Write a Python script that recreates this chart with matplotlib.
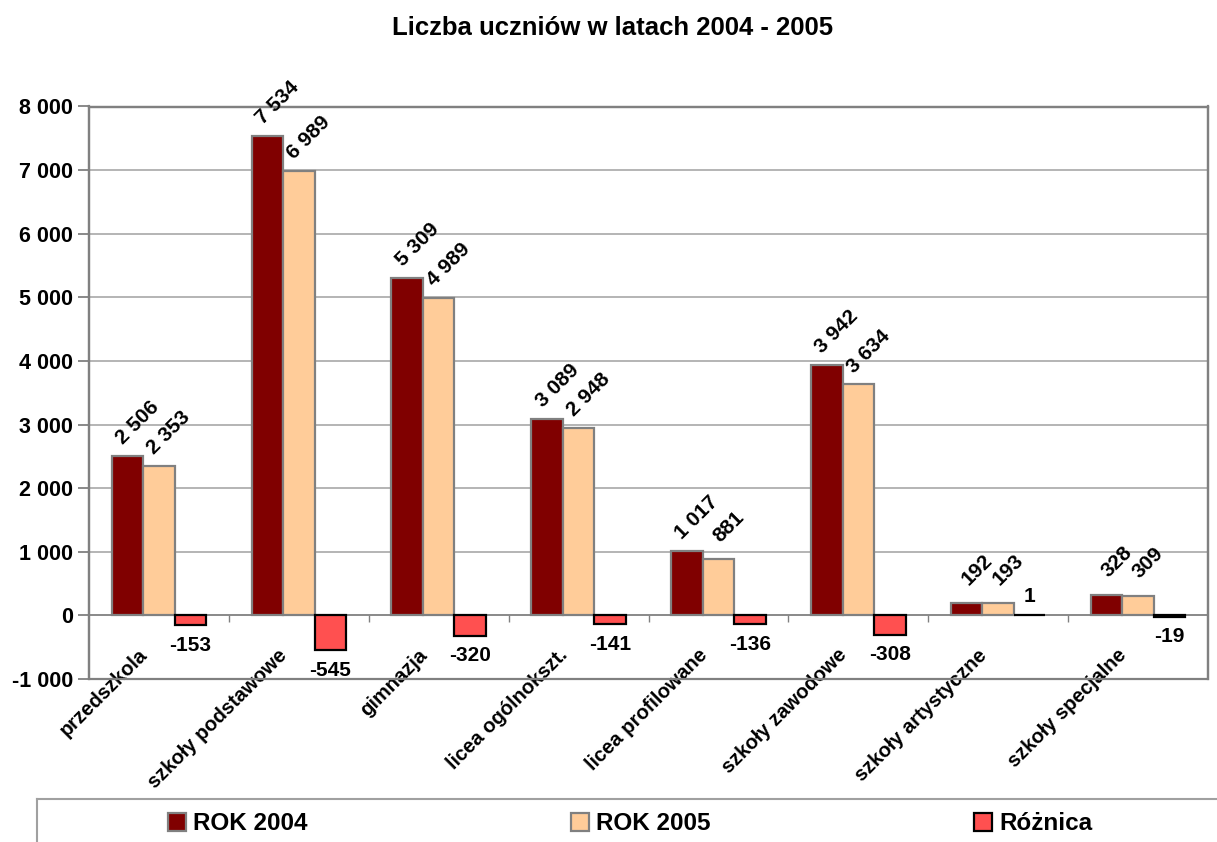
import matplotlib
matplotlib.use("Agg")
import matplotlib.pyplot as plt
import numpy as np
from matplotlib.patches import Patch, Rectangle
from matplotlib.lines import Line2D

plt.rcParams['font.family'] = ['Liberation Sans', 'DejaVu Sans']
plt.rcParams['font.weight'] = 'bold'

categories = ["przedszkola", "szkoły podstawowe", "gimnazja", "licea ogólnokszt.",
              "licea profilowane", "szkoły zawodowe", "szkoły artystyczne", "szkoły specjalne"]
rok2004 = [2506, 7534, 5309, 3089, 1017, 3942, 192, 328]
rok2005 = [2353, 6989, 4989, 2948, 881, 3634, 193, 309]
roznica = [-153, -545, -320, -141, -136, -308, 1, -19]
series_names = ["ROK 2004", "ROK 2005", "Różnica"]
yticks = [-1000, 0, 1000, 2000, 3000, 4000, 5000, 6000, 7000, 8000]
title = "Liczba uczniów w latach 2004 - 2005"

def fmt(v):
    return f"{v:,}".replace(",", " ")

W, H = 1217, 842
fig = plt.figure(figsize=(W / 100, H / 100), dpi=100)
ax = fig.add_axes([89 / W, 1 - 679 / H, (1208 - 89) / W, (679 - 106.5) / H])

x = np.arange(len(categories))
bw = 0.225
gray = '#808080'
c04, c05, cr = '#800000', '#FFCC99', '#FF5050'

b1 = ax.bar(x - bw, rok2004, bw, color=c04, edgecolor=gray, linewidth=1.6, zorder=3)
b2 = ax.bar(x, rok2005, bw, color=c05, edgecolor=gray, linewidth=1.6, zorder=3)
b3 = ax.bar(x + bw, roznica, bw, color=cr, edgecolor='black', linewidth=1.6, zorder=3)

ax.set_xlim(-0.5, len(categories) - 0.5)
ax.set_ylim(-1000, 8000)
ax.set_yticks(yticks)
ax.set_yticklabels([fmt(v) for v in yticks], fontsize=15.5, fontweight='bold')
ax.yaxis.grid(True, color='#A0A0A0', linewidth=1.1, zorder=0)
ax.set_axisbelow(True)

# spines
for s in ['top', 'right', 'left']:
    ax.spines[s].set_color(gray)
    ax.spines[s].set_linewidth(1.6)
ax.spines['bottom'].set_position(('data', 0))
ax.spines['bottom'].set_color(gray)
ax.spines['bottom'].set_linewidth(1.1)
ax.add_patch(Rectangle((0, 0), 1, 1, transform=ax.transAxes, fill=False,
                       edgecolor=gray, linewidth=1.6, clip_on=False, zorder=5))

ax.tick_params(axis='y', direction='out', length=8, width=1.3, color=gray, pad=3.5)
ax.set_xticks(np.arange(len(categories) - 1) + 0.5)
ax.set_xticklabels([])
ax.tick_params(axis='x', which='major', direction='out', length=5, width=1, color=gray)

# category labels (rotated, hanging from the zero line)
for i, name in enumerate(categories):
    ax.annotate(name, xy=(x[i], 0), xytext=(-21, -30), textcoords='offset pixels',
                ha='right', va='top', rotation=45, rotation_mode='anchor',
                fontsize=14.5, fontweight='bold', annotation_clip=False)

# data labels
for bars, vals in [(b1, rok2004), (b2, rok2005)]:
    for r, v in zip(bars, vals):
        ax.annotate(fmt(v), xy=(r.get_x() + r.get_width() / 2, v), xytext=(10, 33),
                    textcoords='offset pixels', ha='center', va='center', rotation=45,
                    fontsize=15, fontweight='bold', annotation_clip=False, zorder=6)
for r, v in zip(b3, roznica):
    off = 19 if v > 0 else -20
    ax.annotate(fmt(v), xy=(r.get_x() + r.get_width() / 2, v), xytext=(0, off),
                textcoords='offset pixels', ha='center', va='center',
                fontsize=15, fontweight='bold', annotation_clip=False, zorder=6)

fig.text(613 / W, 1 - 28 / H, title, ha='center', va='center', fontsize=18.5, fontweight='bold')

# legend box
fig.add_artist(Line2D([37 / W, 1.0], [1 - 799 / H] * 2, transform=fig.transFigure, color='#A0A0A0', linewidth=1.5))
fig.add_artist(Line2D([37 / W] * 2, [0, 1 - 799 / H], transform=fig.transFigure, color='#A0A0A0', linewidth=1.5))

handles = [Patch(facecolor=c04, edgecolor=gray, linewidth=1.6),
           Patch(facecolor=c05, edgecolor=gray, linewidth=1.6),
           Patch(facecolor=cr, edgecolor='black', linewidth=1.6)]
fig.legend(handles, series_names, loc='center left', bbox_to_anchor=(156 / W, 1 - 824 / H),
           ncol=3, frameon=False, borderpad=0, handlelength=0.72, handleheight=0.72,
           handletextpad=0.3, columnspacing=10.85, prop={'size': 17.5, 'weight': 'bold'})

fig.savefig('out.png', dpi=100)
